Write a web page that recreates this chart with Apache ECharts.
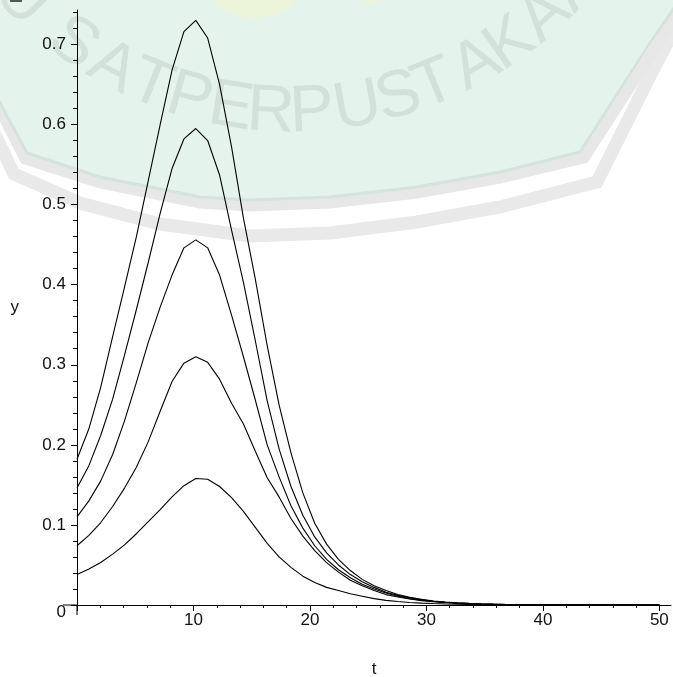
<!DOCTYPE html>
<html><head><meta charset="utf-8">
<script src="https://cdn.jsdelivr.net/npm/echarts@6/dist/echarts.min.js"></script>
<style>html,body{margin:0;padding:0;background:#fff}#c{width:673px;height:677px}</style>
</head><body><div id="c"></div>
<script>
// ---- data ----
const tValues = [0, 1.02, 2.04, 3.06, 4.08, 5.10, 6.12, 7.14, 8.16, 9.18,
  10.20, 11.22, 12.24, 13.27, 14.29, 15.31, 16.33, 17.35, 18.37, 19.39,
  20.41, 21.43, 22.45, 23.47, 24.49, 25.51, 26.53, 27.55, 28.57, 29.59,
  30.61, 31.63, 32.65, 33.67, 34.69, 35.71, 36.73, 37.76, 38.78, 39.80,
  40.82, 41.84, 42.86, 43.88, 44.90, 45.92, 46.94, 47.96, 48.98, 50.00];
const curveA = [0.182, 0.220, 0.272, 0.335, 0.397, 0.460, 0.530, 0.600, 0.668, 0.716,
  0.730, 0.708, 0.650, 0.572, 0.483, 0.407, 0.324, 0.250, 0.190, 0.140,
  0.102, 0.076, 0.057, 0.043, 0.032, 0.024, 0.018, 0.013, 0.0095, 0.007,
  0.005, 0.0037, 0.0028, 0.0021, 0.0016, 0.0012, 0.0009, 0.0007, 0.0005, 0.0004,
  0.0003, 0.0002, 0.0002, 0.0001, 0.0001, 0.0001, 0.0001, 0.0001, 0, 0];
const curveB = [0.146, 0.174, 0.212, 0.257, 0.312, 0.369, 0.428, 0.489, 0.545, 0.582,
  0.595, 0.580, 0.537, 0.468, 0.403, 0.330, 0.255, 0.195, 0.148, 0.112,
  0.085, 0.065, 0.050, 0.038, 0.029, 0.022, 0.016, 0.012, 0.009, 0.0065,
  0.0047, 0.0034, 0.0025, 0.0018, 0.0013, 0.001, 0.0007, 0.0005, 0.0004, 0.0003,
  0.0002, 0.0002, 0.0001, 0.0001, 0.0001, 0.0001, 0, 0, 0, 0];
const curveC = [0.110, 0.130, 0.155, 0.188, 0.230, 0.278, 0.328, 0.372, 0.412, 0.446,
  0.456, 0.446, 0.412, 0.362, 0.310, 0.256, 0.200, 0.160, 0.124, 0.096,
  0.074, 0.057, 0.044, 0.034, 0.026, 0.020, 0.015, 0.011, 0.008, 0.006,
  0.0044, 0.0032, 0.0024, 0.0017, 0.0012, 0.0009, 0.0007, 0.0005, 0.0004, 0.0003,
  0.0002, 0.0001, 0.0001, 0.0001, 0.0001, 0, 0, 0, 0, 0];
const curveD = [0.074, 0.087, 0.103, 0.123, 0.146, 0.172, 0.204, 0.242, 0.279, 0.302,
  0.310, 0.303, 0.282, 0.252, 0.226, 0.192, 0.159, 0.135, 0.108, 0.086,
  0.068, 0.053, 0.041, 0.031, 0.024, 0.018, 0.013, 0.010, 0.0075, 0.0055,
  0.004, 0.003, 0.0022, 0.0016, 0.0012, 0.0009, 0.0006, 0.0005, 0.0003, 0.0002,
  0.0002, 0.0001, 0.0001, 0.0001, 0, 0, 0, 0, 0, 0];
const curveE = [0.038, 0.045, 0.053, 0.0635, 0.075, 0.089, 0.104, 0.119, 0.135, 0.149,
  0.158, 0.157, 0.148, 0.134, 0.117, 0.097, 0.077, 0.060, 0.047, 0.036,
  0.028, 0.022, 0.018, 0.014, 0.011, 0.008, 0.0058, 0.0043, 0.0032, 0.0024,
  0.0018, 0.0013, 0.001, 0.0007, 0.0005, 0.0004, 0.0003, 0.0002, 0.0001, 0.0001,
  0.0001, 0, 0, 0, 0, 0, 0, 0, 0, 0];
const xMajorTicks = [0, 10, 20, 30, 40, 50];
const xTickLabels = [10, 20, 30, 40, 50];
const yMajorTicks = [0, 0.1, 0.2, 0.3, 0.4, 0.5, 0.6, 0.7];
const yTickLabels = [0.1, 0.2, 0.3, 0.4, 0.5, 0.6, 0.7];
const xName = 't';
const yName = 'y';
// -----------------------------------------------

const xMinor = []; for (let i = 1; i <= 25; i++) { if (i % 5) xMinor.push(i * 2); }
const yMinor = []; for (let i = 1; i <= 37; i++) { if (i % 5) yMinor.push(+(i * 0.02).toFixed(2)); }

const FONT = '"Liberation Sans", Arial, sans-serif';
const labelStyle = { color: '#111', fontSize: 17, fontFamily: FONT };

const curves = [curveA, curveB, curveC, curveD, curveE];
const series = curves.map(c => ({
  type: 'line', showSymbol: false, smooth: false, animation: false,
  data: tValues.map((t, i) => [t, c[i]]),
  lineStyle: { color: '#000', width: 1.1 }, z: 5
}));

// watermark (decoration of the scanned page)
const wmCx = 292, wmCy = -265, wmR = 378;
const wmLetters = ['P','U','S','A','T','P','E','R','P','U','S','T','A','K','A','A','N'];
const wmAngles  = [-52,-45.7,-35.3,-28.3,-21.9,-15.7,-9.3,-3.2,3.0,10.0,16.4,22.2,29.2,35.2,42.0,48.5,55];
const graphics = [
  { type: 'polyline', z: -20, silent: true,
    shape: { points: [[-10,125],[0,145],[14,174],[80,203],[160,224],[250,236],[330,233],[417,222],[500,207],[597,182],[650,76],[690,0]] },
    style: { stroke: '#e9e9e9', lineWidth: 13, fill: null } },
  { type: 'polyline', z: -19, silent: true,
    shape: { points: [[-10,92],[0,110],[25,159],[100,183],[200,203],[250,206],[330,203],[417,193],[500,178],[584,158],[656,47],[697,-15]] },
    style: { stroke: '#e7e7e7', lineWidth: 11, fill: null } },
  { type: 'polygon', z: -18, silent: true,
    shape: { points: [[-10,-10],[700,-10],[690,-15],[650,43],[580,152],[500,172],[417,187],[330,197],[250,200],[200,197],[100,177],[27,153],[0,103],[-10,85]] },
    style: { fill: '#e4f3ec', stroke: '#d4e4dc', lineWidth: 3 } },
  { type: 'circle', z: -17, silent: true, x: 255, y: -14, scaleY: 0.7,
    shape: { cx: 0, cy: 0, r: 46 }, style: { fill: '#ecf5da' } },
  { type: 'circle', z: -17, silent: true, x: 372, y: -8, scaleY: 0.7,
    shape: { cx: 0, cy: 0, r: 16 }, style: { fill: '#ecf5da' } },
  { type: 'rect', z: -16, silent: true, shape: { x: 10, y: 0, width: 12, height: 2 }, style: { fill: '#555' } }
];
wmLetters.forEach((ch, i) => {
  const a = wmAngles[i] * Math.PI / 180;
  graphics.push({
    type: 'text', z: -15, silent: true,
    x: wmCx + wmR * Math.sin(a), y: wmCy + wmR * Math.cos(a), rotation: a,
    style: { text: ch, fill: '#d2e1da', fontSize: 66, fontFamily: FONT, align: 'center', verticalAlign: 'middle' }
  });
});

const chart = echarts.init(document.getElementById('c'), null, { renderer: 'canvas' });
const option = {
  animation: false,
  backgroundColor: '#fff',
  grid: { left: 77, right: 2, top: 10, bottom: 72, containLabel: false, outerBoundsMode: 'none' },
  xAxis: [{
    type: 'value', min: 0, max: 51,
    name: xName, nameLocation: 'middle', nameGap: 56, nameTextStyle: labelStyle,
    axisLine: { show: true, onZero: false, lineStyle: { color: '#000', width: 1 } },
    axisTick: { show: true, customValues: xMajorTicks, length: 6, lineStyle: { color: '#000' } },
    axisLabel: { customValues: xTickLabels, margin: 7, ...labelStyle },
    splitLine: { show: false }
  }, {
    type: 'value', min: 0, max: 51, position: 'bottom',
    axisLine: { show: false },
    axisTick: { show: true, customValues: xMinor, length: 3, lineStyle: { color: '#000' } },
    axisLabel: { show: false }, splitLine: { show: false }
  }],
  yAxis: [{
    type: 'value', min: 0, max: 0.743,
    name: yName, nameLocation: 'middle', nameRotate: 0, nameGap: 58, nameTextStyle: labelStyle,
    axisLine: { show: true, onZero: false, lineStyle: { color: '#000', width: 1 } },
    axisTick: { show: true, customValues: yMajorTicks, length: 6, lineStyle: { color: '#000' } },
    axisLabel: { customValues: yTickLabels, margin: 11, formatter: v => (+v).toFixed(1), ...labelStyle },
    splitLine: { show: false }
  }, {
    type: 'value', min: 0, max: 0.743, position: 'left',
    axisLine: { show: false },
    axisTick: { show: true, customValues: yMinor, length: 4, lineStyle: { color: '#000' } },
    axisLabel: { show: false }, splitLine: { show: false }
  }],
  graphic: graphics,
  series: series
};
chart.setOption(option);

// Maple-style crossing at the origin, placed from the axis scales
const o = chart.convertToPixel({ gridIndex: 0 }, [0, 0]);
chart.setOption({ graphic: graphics.concat([
  { type: 'line', z: 10, silent: true, shape: { x1: o[0] - 14, y1: o[1], x2: o[0], y2: o[1] }, style: { stroke: '#000', lineWidth: 1 } },
  { type: 'line', z: 10, silent: true, shape: { x1: o[0], y1: o[1], x2: o[0], y2: o[1] + 10 }, style: { stroke: '#000', lineWidth: 1 } },
  { type: 'text', z: 10, silent: true, x: o[0] - 11, y: o[1] + 7,
    style: { text: '0', fill: '#111', fontSize: 17, fontFamily: FONT, align: 'right', verticalAlign: 'middle' } }
]) });
</script></body></html>
